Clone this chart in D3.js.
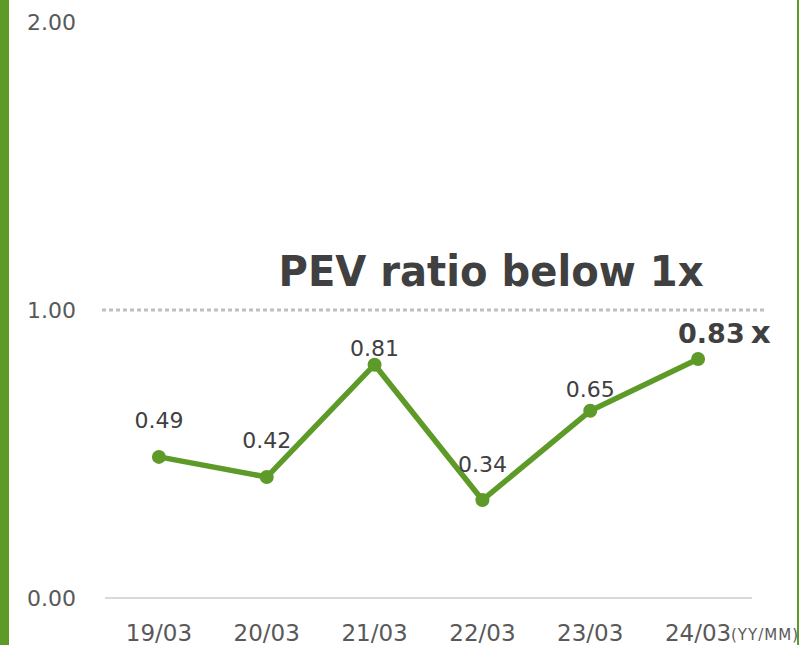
<!DOCTYPE html>
<html>
<head>
<meta charset="utf-8">
<script src="https://cdn.jsdelivr.net/npm/d3@7"></script>
<style>
body { margin: 0; background: #fff; }
text { font-family: "DejaVu Sans", Verdana, sans-serif; }
</style>
</head>
<body>
<script>
var periods = ['19/03', '20/03', '21/03', '22/03', '23/03', '24/03'];
var pev = [0.49, 0.42, 0.81, 0.34, 0.65, 0.83];
var yTicks = [0, 1, 2];
// label lift above each point (px), like the source chart
var labelLift = [29, 29, 9, 28, 14, 16];

var width = 799, height = 645;
var green = '#5e9a28';

var svg = d3.select('body')
	.append('svg')
	.attr('width', width)
	.attr('height', height);

// side bars
svg.append('rect').attr('x', 0).attr('y', 0).attr('width', 9).attr('height', height).style('fill', green);
svg.append('rect').attr('x', 797).attr('y', 0).attr('width', 2).attr('height', height).style('fill', green);

var x = d3.scaleBand()
	.domain(periods)
	.range([105, 752]);

var y = d3.scaleLinear()
	.domain([0, 2])
	.range([598, 22]);

// y tick labels
svg.selectAll('.ytick')
	.data(yTicks)
	.enter()
	.append('text')
	.classed('ytick', true)
	.attr('x', 76)
	.attr('y', function(d){ return y(d) + 8; })
	.style('text-anchor', 'end')
	.style('font-size', '22px')
	.style('fill', '#595959')
	.text(function(d){ return d3.format('.2f')(d); });

// baseline
svg.append('line')
	.attr('x1', 105).attr('x2', 752)
	.attr('y1', y(0)).attr('y2', y(0))
	.style('stroke', '#d9d9d9')
	.style('stroke-width', 2);

// 1x reference
svg.append('line')
	.attr('x1', 102).attr('x2', 767)
	.attr('y1', y(1)).attr('y2', y(1))
	.style('stroke', '#bfbfbf')
	.style('stroke-width', 3)
	.style('stroke-dasharray', '4,3');

svg.append('text')
	.attr('x', 491)
	.attr('y', 286)
	.style('text-anchor', 'middle')
	.style('font-size', '43px')
	.style('font-weight', 'bold')
	.style('fill', '#404040')
	.attr('textLength', 425)
	.attr('lengthAdjust', 'spacingAndGlyphs')
	.text('PEV ratio below 1x');

// x labels
svg.selectAll('.xtick')
	.data(periods)
	.enter()
	.append('text')
	.classed('xtick', true)
	.attr('x', function(d){ return x(d) + x.bandwidth() / 2; })
	.attr('y', 641)
	.style('text-anchor', 'middle')
	.style('font-size', '23px')
	.style('fill', '#595959')
	.text(function(d){ return d; });

svg.append('text')
	.attr('x', 731)
	.attr('y', 640)
	.style('font-size', '15px')
	.style('fill', '#595959')
	.attr('textLength', 67)
	.text('(YY/MM)');

var cx = function(d, i){ return x(periods[i]) + x.bandwidth() / 2; };

var line = d3.line()
	.x(cx)
	.y(function(d){ return y(d); });

svg.append('path')
	.datum(pev)
	.attr('d', line)
	.style('fill', 'none')
	.style('stroke', green)
	.style('stroke-width', 5.5);

svg.selectAll('.dot')
	.data(pev)
	.enter()
	.append('circle')
	.classed('dot', true)
	.attr('cx', cx)
	.attr('cy', function(d){ return y(d); })
	.attr('r', 7)
	.style('fill', green);

var last = pev.length - 1;
svg.selectAll('.label')
	.data(pev.slice(0, last))
	.enter()
	.append('text')
	.classed('label', true)
	.attr('x', cx)
	.attr('y', function(d, i){ return y(d) - labelLift[i]; })
	.style('text-anchor', 'middle')
	.style('font-size', '22px')
	.style('fill', '#404040')
	.text(function(d){ return d3.format('.2f')(d); });

var lastLabel = svg.append('text')
	.attr('x', cx(pev[last], last) - 20)
	.attr('y', y(pev[last]) - labelLift[last])
	.style('font-weight', 'bold')
	.style('fill', '#404040');
lastLabel.append('tspan')
	.style('font-size', '27px')
	.text(d3.format('.2f')(pev[last]));
lastLabel.append('tspan')
	.attr('dx', 6)
	.style('font-size', '31px')
	.text('x');
</script>
</body>
</html>
